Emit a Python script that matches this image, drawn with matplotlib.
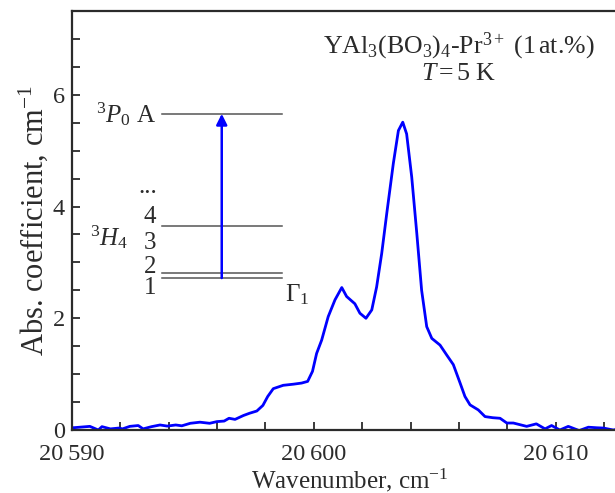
import matplotlib
matplotlib.use("Agg")
import matplotlib.pyplot as plt
from matplotlib.ticker import MultipleLocator, FuncFormatter

plt.rcParams["font.family"] = ["Liberation Serif", "DejaVu Serif"]
plt.rcParams["mathtext.fontset"] = "custom"
plt.rcParams["mathtext.rm"] = "Liberation Serif"
plt.rcParams["mathtext.it"] = "Liberation Serif:italic"

# absorption spectrum
wavenumber = [
    20590.0, 20590.05, 20590.75, 20591.1, 20591.25, 20591.6, 20591.95, 20592.1,
    20592.4, 20592.75, 20592.95, 20593.3, 20593.65, 20593.95, 20594.3, 20594.55,
    20594.9, 20595.3, 20595.7, 20596.0, 20596.3, 20596.5, 20596.75, 20597.1,
    20597.35, 20597.65, 20597.9, 20598.1, 20598.33, 20598.74, 20599.16, 20599.5,
    20599.75, 20599.95, 20600.12, 20600.33, 20600.6, 20600.88, 20601.16, 20601.36,
    20601.7, 20601.91, 20602.16, 20602.4, 20602.6, 20602.81, 20603.02, 20603.29,
    20603.5, 20603.68, 20603.84, 20604.05, 20604.26, 20604.46, 20604.67, 20604.88,
    20605.22, 20605.5, 20605.77, 20606.05, 20606.25, 20606.46, 20606.8, 20607.08,
    20607.4, 20607.7, 20607.98, 20608.25, 20608.8, 20609.2, 20609.56, 20609.83,
    20610.17, 20610.52, 20610.97, 20611.35, 20611.7, 20611.97, 20612.38, 20612.6,
]
absorption = [
    0.05, 0.04, 0.065, 0.0, 0.06, 0.02, 0.035, 0.02,
    0.065, 0.08, 0.02, 0.06, 0.09, 0.07, 0.09, 0.075,
    0.12, 0.14, 0.12, 0.15, 0.16, 0.21, 0.19, 0.26,
    0.30, 0.34, 0.44, 0.60, 0.74, 0.80, 0.82, 0.84,
    0.87, 1.05, 1.37, 1.61, 2.03, 2.33, 2.55, 2.39,
    2.26, 2.09, 2.00, 2.15, 2.56, 3.16, 3.88, 4.77,
    5.36, 5.51, 5.30, 4.53, 3.52, 2.50, 1.85, 1.64,
    1.52, 1.34, 1.17, 0.84, 0.60, 0.45, 0.36, 0.24,
    0.22, 0.21, 0.125, 0.125, 0.065, 0.11, 0.02, 0.08,
    0.0, 0.065, -0.01, 0.05, 0.04, 0.035, 0.0, 0.02,
]

# energy-level scheme drawn inside the axes
level_y = [5.66, 3.65, 2.81, 2.72]
level_x = [20593.72, 20598.68]
arrow_x = 20596.2
arrow_from, arrow_to = 2.72, 5.66

fig = plt.figure(figsize=(6.15, 4.93), dpi=100)
ax = fig.add_axes([71.7 / 615, 63 / 493, 556.6 / 615, 419 / 493])

ink = "#2b2b2b"
ax.plot(wavenumber, absorption, color="#0000ff", lw=2.0, solid_joinstyle="round")

for y in level_y:
    ax.plot(level_x, [y, y], color="#555555", lw=1.1)
ax.annotate("", xy=(arrow_x, arrow_to), xytext=(arrow_x, arrow_from),
            arrowprops=dict(arrowstyle="-|>", color="#0000ff", lw=1.8,
                            mutation_scale=16, shrinkA=0, shrinkB=0))

fs = 18
ax.text(20593.5, 5.66, r"$^3P_0$ A", ha="right", va="center", fontsize=fs, color=ink)
ax.text(20593.15, 4.35, "...", ha="center", va="center", fontsize=fs, color=ink)
ax.text(20593.24, 3.81, "4", ha="center", va="center", fontsize=fs, color=ink)
ax.text(20593.24, 3.34, "3", ha="center", va="center", fontsize=fs, color=ink)
ax.text(20593.24, 2.92, "2", ha="center", va="center", fontsize=fs, color=ink)
ax.text(20593.24, 2.55, "1", ha="center", va="center", fontsize=fs, color=ink)
ax.text(20590.75, 3.45, r"$^3H_4$", ha="left", va="center", fontsize=fs, color=ink)
ax.text(20598.8, 2.42, r"$\Gamma_1$", ha="left", va="center", fontsize=fs, color=ink)

ax.text(20606.0, 6.86, r"YAl$_3$(BO$_3$)$_4$-Pr$^{3+}$ (1$\,$at.%)",
        ha="center", va="center", fontsize=18.6, color=ink)
ax.text(20606.0, 6.37, r"$T$$\,$=$\,$5 K", ha="center", va="center",
        fontsize=18.6, color=ink)

ax.set_xlim(20590, 20613)
ax.set_ylim(0, 7.5)
ax.xaxis.set_major_locator(MultipleLocator(10))
ax.xaxis.set_minor_locator(MultipleLocator(2))
ax.yaxis.set_major_locator(MultipleLocator(2))
ax.yaxis.set_minor_locator(MultipleLocator(0.5))
ax.xaxis.set_major_formatter(
    FuncFormatter(lambda v, p: f"{int(v) // 1000}\u2009{int(v) % 1000:03d}"))
ax.tick_params(which="both", direction="in", length=6, width=1.3,
               colors=ink, labelsize=17.5, top=False, right=False)
ax.tick_params(axis="x", pad=10)
ax.tick_params(axis="y", pad=5)
for side in ["left", "bottom", "top"]:
    ax.spines[side].set_linewidth(1.6)
    ax.spines[side].set_color(ink)
ax.spines["right"].set_visible(False)

ax.set_xlabel(r"Wavenumber, cm$^{-1}$", fontsize=fs, color=ink, labelpad=1)
ax.set_ylabel(r"Abs. coefficient, cm$^{-1}$", fontsize=22, color=ink, labelpad=2)

fig.savefig("out.png", dpi=100)
